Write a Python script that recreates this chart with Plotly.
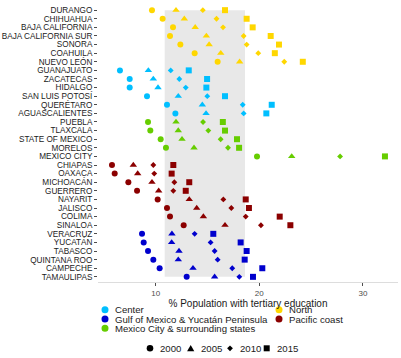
import plotly.graph_objects as go

# ---------------- data ----------------
states = ["DURANGO", "CHIHUAHUA", "BAJA CALIFORNIA", "BAJA CALIFORNIA SUR", "SONORA",
          "COAHUILA", "NUEVO LEÓN", "GUANAJUATO", "ZACATECAS", "HIDALGO",
          "SAN LUIS POTOSÍ", "QUERÉTARO", "AGUASCALIENTES", "PUEBLA", "TLAXCALA",
          "STATE OF MEXICO", "MORELOS", "MEXICO CITY", "CHIAPAS", "OAXACA",
          "MICHOACÁN", "GUERRERO", "NAYARIT", "JALISCO", "COLIMA", "SINALOA",
          "VERACRUZ", "YUCATÁN", "TABASCO", "QUINTANA ROO", "CAMPECHE", "TAMAULIPAS"]

state_region = ["North"] * 7 + ["Center"] * 6 + ["Mexico City & surrounding states"] * 5 + \
               ["Pacific coast"] * 8 + ["Gulf of Mexico & Yucatán Peninsula"] * 6

v2000 = [9.64, 10.67, 11.67, 11.38, 12.38, 13.76, 15.98, 6.55, 7.49, 7.49, 9.16, 11.09,
         11.90, 9.26, 9.48, 10.48, 10.99, 19.78, 5.78, 6.04, 7.36, 8.20, 10.19, 11.09,
         11.38, 12.70, 8.68, 8.84, 9.26, 9.77, 10.38, 12.99]
v2005 = [11.96, 12.76, 13.81, 14.89, 15.16, 16.28, 18.10, 9.29, 9.77, 10.22, 12.18, 14.50,
         14.86, 11.96, 12.18, 12.54, 13.70, 23.13, 7.84, 8.26, 9.64, 10.29, 13.24, 13.96,
         14.60, 16.69, 11.57, 11.54, 12.25, 12.18, 13.60, 15.69]
v2010 = [14.55, 15.87, 16.50, 18.49, 18.78, 19.90, 22.41, 11.45, 12.28, 12.90, 14.98, 18.40,
         18.49, 14.57, 15.08, 16.27, 16.98, 27.80, 9.77, 9.86, 11.80, 11.70, 16.53, 17.30,
         18.69, 20.16, 13.76, 15.30, 15.69, 15.98, 17.39, 18.07]
v2015 = [16.69, 18.78, 19.36, 21.10, 21.90, 21.50, 24.20, 13.19, 14.96, 14.89, 16.69, 21.20,
         20.68, 16.48, 16.69, 17.85, 18.05, 32.13, 11.70, 11.54, 13.24, 12.90, 18.69, 19.00,
         21.97, 23.00, 15.56, 18.20, 18.78, 18.59, 20.29, 19.39]

years = ["2000", "2005", "2010", "2015"]
year_values = [v2000, v2005, v2010, v2015]

band_low = 10.87
band_high = 18.62

legend_regions = ["Center", "Gulf of Mexico & Yucatán Peninsula",
                  "Mexico City & surrounding states", "North", "Pacific coast"]

# ---------------- styles ----------------
region_colors = {
    "Center": "#00BFFF",
    "Gulf of Mexico & Yucatán Peninsula": "#0000CD",
    "Mexico City & surrounding states": "#66CD00",
    "North": "#FFD700",
    "Pacific coast": "#8B0000",
}
year_symbols = {"2000": "circle", "2005": "triangle-up", "2010": "diamond", "2015": "square"}
year_sizes = {"2000": 6, "2005": 6.5, "2010": 4.5, "2015": 6}

FONT = "Liberation Sans, Arial, Helvetica, sans-serif"
W, H = 401, 358
ML, MR, MT, MB = 98, 3, 5, 76
PW, PH = W - ML - MR, H - MT - MB


def px2paper_x(px):
    return (px - ML) / PW


def py2paper_y(py):
    return (H - MB - py) / PH


fig = go.Figure()

for region in legend_regions:
    idx = [i for i, r in enumerate(state_region) if r == region]
    for yr, vals in zip(years, year_values):
        fig.add_trace(go.Scatter(
            x=[vals[i] for i in idx],
            y=[states[i] for i in idx],
            mode="markers",
            marker=dict(symbol=year_symbols[yr], size=year_sizes[yr],
                        color=region_colors[region], line=dict(width=0)),
            showlegend=False,
            name=f"{region} {yr}",
        ))

shapes = [dict(type="rect", xref="x", yref="y", x0=band_low, x1=band_high,
               y0=states[0], y1=states[-1], fillcolor="#E8E8E8",
               line=dict(width=0), layer="below")]
annotations = []

# ---- legend: colour (regions), two columns ----
leg_pos = [(105, 309.8), (105, 319.0), (105, 328.3), (279, 309.8), (279, 319.0)]
for region, (mx, my) in zip(legend_regions, leg_pos):
    shapes.append(dict(type="circle", xref="paper", yref="paper",
                       xsizemode="pixel", ysizemode="pixel",
                       xanchor=px2paper_x(mx), yanchor=py2paper_y(my),
                       x0=-3.5, x1=3.5, y0=-3.5, y1=3.5,
                       fillcolor=region_colors[region], line=dict(width=0)))
    annotations.append(dict(xref="paper", yref="paper", x=px2paper_x(mx + 9),
                            y=py2paper_y(my), text=region, showarrow=False,
                            xanchor="left", yanchor="middle", borderpad=0,
                            font=dict(family=FONT, size=9.6, color="#1A1A1A")))

# ---- legend: shape (years) ----
yr_pos = [150, 190.7, 230, 266.7]
yr_y = 348.3
paths = {
    "2005": "M-3.6,-2.9 L3.6,-2.9 L0,3.3 Z",
    "2010": "M-2.9,0 L0,2.9 L2.9,0 L0,-2.9 Z",
}
for yr, mx in zip(years, yr_pos):
    base = dict(xref="paper", yref="paper", xsizemode="pixel", ysizemode="pixel",
                xanchor=px2paper_x(mx), yanchor=py2paper_y(yr_y),
                fillcolor="#000000", line=dict(width=0))
    if yr == "2000":
        shapes.append(dict(type="circle", x0=-3.3, x1=3.3, y0=-3.3, y1=3.3, **base))
    elif yr == "2015":
        shapes.append(dict(type="rect", x0=-3, x1=3, y0=-3, y1=3, **base))
    else:
        shapes.append(dict(type="path", path=paths[yr], **base))
    annotations.append(dict(xref="paper", yref="paper", x=px2paper_x(mx + 9),
                            y=py2paper_y(yr_y), text=yr, showarrow=False,
                            xanchor="left", yanchor="middle", borderpad=0,
                            font=dict(family=FONT, size=9.6, color="#1A1A1A")))

fig.update_layout(
    width=W, height=H,
    margin=dict(l=ML, r=MR, t=MT, b=MB, pad=0, autoexpand=False),
    paper_bgcolor="white", plot_bgcolor="white",
    font=dict(family=FONT, color="#1A1A1A"),
    showlegend=False,
    shapes=shapes,
    annotations=annotations,
    xaxis=dict(range=[4.43, 33.39], tickvals=[10, 20, 30], ticks="outside", ticklen=3,
               tickcolor="#4D4D4D", tickwidth=1, showgrid=False, zeroline=False,
               showline=True, linecolor="#DDDDDD", linewidth=1, automargin=False,
               tickfont=dict(family=FONT, size=8, color="#4D4D4D"),
               title=dict(text="% Population with tertiary education",
                          font=dict(family=FONT, size=10, color="#1A1A1A"), standoff=2)),
    yaxis=dict(type="category", categoryorder="array", categoryarray=states,
               tickmode="array", tickvals=states, ticktext=states, automargin=False,
               range=[len(states) - 0.4, -0.6], ticks="outside", ticklen=3,
               tickcolor="#4D4D4D", tickwidth=1, showgrid=False, zeroline=False,
               showline=False, tickfont=dict(family=FONT, size=8.2, color="#1A1A1A")),
)

fig.write_html("out.html",
               config={"displayModeBar": False, "staticPlot": True},
               post_script="document.body.style.margin='0px';"
                           "document.body.style.padding='0px';")
